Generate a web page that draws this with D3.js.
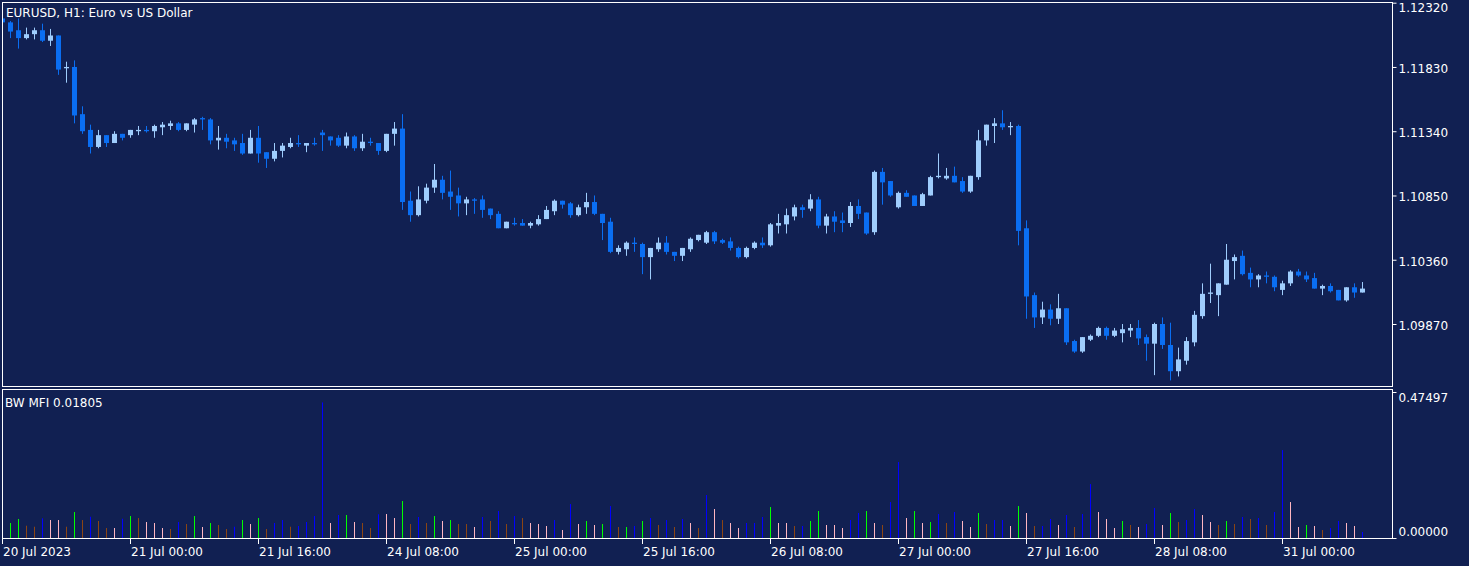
<!DOCTYPE html>
<html lang="en">
<head>
<meta charset="UTF-8">
<title>EURUSD H1</title>
<script src="https://cdn.jsdelivr.net/npm/d3@7"></script>
<style>
  body { margin: 0; background: #112052; }
  text { font-family: "DejaVu Sans", sans-serif; font-size: 12px; fill: #ffffff; }
</style>
</head>
<body>
<svg width="1469" height="566"></svg>
<script>
const opens = [
  1.1220,1.1217,1.1211,1.1205,1.1208,1.1211,1.1203,1.1207,1.1182,1.1183,
  1.1147,1.1135,1.1122,1.1131,1.1125,1.1132,1.1131,1.1134,1.1135,1.1134,
  1.1137,1.1138,1.1140,1.1135,1.1139,1.1144,1.1143,1.1127,1.1129,1.1127,
  1.1125,1.1117,1.1129,1.1118,1.1113,1.1119,1.1122,1.1125,1.1123,1.1125,
  1.1133,1.1130,1.1129,1.1123,1.1130,1.1121,1.1126,1.1125,1.1119,1.1132,
  1.1136,1.1081,1.1070,1.1081,1.1091,1.1097,1.1088,1.1085,1.1079,1.1082,
  1.1082,1.1075,1.1071,1.1060,1.1064,1.1064,1.1062,1.1063,1.1067,1.1073,
  1.1081,1.1079,1.1070,1.1076,1.1080,1.1071,1.1065,1.1042,1.1044,1.1049,
  1.1048,1.1038,1.1044,1.1049,1.1042,1.1039,1.1044,1.1051,1.1049,1.1057,
  1.1051,1.1050,1.1045,1.1038,1.1045,1.1049,1.1047,1.1062,1.1063,1.1069,
  1.1076,1.1075,1.1082,1.1062,1.1069,1.1066,1.1064,1.1077,1.1072,1.1057,
  1.1103,1.1096,1.1076,1.1087,1.1085,1.1077,1.1085,1.1099,1.1098,1.1100,
  1.1096,1.1088,1.1099,1.1127,1.1138,1.1140,1.1137,1.1138,1.1060,1.1009,
  1.0992,1.0998,1.0991,1.0999,1.0974,1.0966,1.0975,1.0978,1.0984,1.0978,
  1.0980,1.0982,1.0984,1.0977,1.0972,1.0987,1.0971,1.0951,1.0959,1.0973,
  1.0993,1.1010,1.1009,1.1017,1.1035,1.1039,1.1026,1.1021,1.1024,1.1023,
  1.1013,1.1018,1.1027,1.1024,1.1022,1.1014,1.1016,1.1013,1.1005,1.1015,1.1011
];
const highs = [
  1.1221,1.1218,1.1220,1.1213,1.1213,1.1216,1.1212,1.1207,1.1187,1.1188,
  1.1153,1.1139,1.1135,1.1131,1.1134,1.1132,1.1135,1.1138,1.1138,1.1139,
  1.1141,1.1142,1.1141,1.1140,1.1144,1.1145,1.1144,1.1138,1.1132,1.1129,
  1.1132,1.1135,1.1138,1.1118,1.1125,1.1125,1.1129,1.1131,1.1125,1.1129,
  1.1135,1.1130,1.1131,1.1133,1.1131,1.1132,1.1129,1.1125,1.1132,1.1141,
  1.1147,1.1088,1.1092,1.1094,1.1109,1.1100,1.1104,1.1091,1.1084,1.1083,
  1.1085,1.1075,1.1073,1.1065,1.1068,1.1067,1.1065,1.1070,1.1077,1.1082,
  1.1081,1.1080,1.1078,1.1087,1.1085,1.1071,1.1068,1.1047,1.1050,1.1053,
  1.1049,1.1045,1.1053,1.1054,1.1042,1.1045,1.1053,1.1055,1.1058,1.1058,
  1.1052,1.1053,1.1046,1.1046,1.1050,1.1053,1.1064,1.1071,1.1075,1.1078,
  1.1078,1.1086,1.1084,1.1071,1.1073,1.1072,1.1080,1.1082,1.1072,1.1104,
  1.1106,1.1096,1.1088,1.1089,1.1085,1.1087,1.1100,1.1117,1.1106,1.1107,
  1.1099,1.1100,1.1135,1.1139,1.1144,1.1150,1.1141,1.1139,1.1066,1.1011,
  1.1004,1.1002,1.1010,1.0999,1.0975,1.0977,1.0979,1.0985,1.0985,1.0984,
  1.0987,1.0987,1.0990,1.0979,1.0988,1.0992,1.0988,1.0969,1.0977,1.0997,
  1.1018,1.1033,1.1018,1.1048,1.1040,1.1043,1.1030,1.1025,1.1027,1.1024,
  1.1020,1.1028,1.1029,1.1027,1.1026,1.1017,1.1018,1.1013,1.1015,1.1018,1.1019
];
const lows = [
  1.1216,1.1205,1.1197,1.1204,1.1204,1.1202,1.1199,1.1177,1.1171,1.1140,
  1.1132,1.1117,1.1121,1.1122,1.1125,1.1127,1.1129,1.1131,1.1133,1.1129,
  1.1131,1.1135,1.1134,1.1134,1.1133,1.1135,1.1124,1.1120,1.1121,1.1119,
  1.1116,1.1117,1.1110,1.1106,1.1111,1.1114,1.1121,1.1122,1.1118,1.1123,
  1.1119,1.1123,1.1122,1.1121,1.1119,1.1119,1.1123,1.1116,1.1118,1.1123,
  1.1074,1.1065,1.1069,1.1079,1.1087,1.1082,1.1074,1.1069,1.1070,1.1071,
  1.1068,1.1067,1.1060,1.1060,1.1062,1.1062,1.1060,1.1062,1.1067,1.1070,
  1.1075,1.1068,1.1069,1.1071,1.1070,1.1051,1.1041,1.1040,1.1039,1.1042,
  1.1025,1.1021,1.1042,1.1040,1.1035,1.1035,1.1042,1.1050,1.1048,1.1048,
  1.1048,1.1043,1.1037,1.1037,1.1044,1.1045,1.1046,1.1056,1.1056,1.1066,
  1.1068,1.1073,1.1060,1.1056,1.1057,1.1057,1.1061,1.1067,1.1055,1.1055,
  1.1078,1.1084,1.1075,1.1084,1.1077,1.1077,1.1085,1.1098,1.1097,1.1095,
  1.1087,1.1087,1.1097,1.1123,1.1125,1.1135,1.1131,1.1047,1.0991,1.0984,
  1.0987,1.0986,1.0987,1.0971,1.0965,1.0965,1.0974,1.0977,1.0975,1.0977,
  1.0973,1.0977,1.0971,1.0959,1.0948,1.0968,1.0944,1.0947,1.0956,1.0970,
  1.0991,1.1003,1.0993,1.1017,1.1021,1.1024,1.1015,1.1015,1.1018,1.1012,
  1.1009,1.1016,1.1023,1.1019,1.1014,1.1009,1.1011,1.1005,1.1004,1.1007,1.1011
];
const closes = [
  1.1217,1.1210,1.1205,1.1208,1.1211,1.1203,1.1207,1.1181,1.1183,1.1146,
  1.1134,1.1122,1.1131,1.1125,1.1132,1.1129,1.1135,1.1135,1.1134,1.1138,
  1.1139,1.1140,1.1135,1.1140,1.1143,1.1143,1.1127,1.1129,1.1126,1.1124,
  1.1117,1.1129,1.1117,1.1113,1.1119,1.1123,1.1125,1.1124,1.1125,1.1124,
  1.1131,1.1127,1.1123,1.1130,1.1121,1.1126,1.1125,1.1119,1.1132,1.1136,
  1.1080,1.1070,1.1082,1.1091,1.1097,1.1087,1.1084,1.1079,1.1082,1.1081,
  1.1074,1.1070,1.1060,1.1065,1.1063,1.1062,1.1064,1.1067,1.1074,1.1081,
  1.1078,1.1070,1.1076,1.1080,1.1071,1.1064,1.1042,1.1045,1.1049,1.1048,
  1.1038,1.1045,1.1049,1.1042,1.1039,1.1045,1.1052,1.1055,1.1057,1.1050,
  1.1049,1.1045,1.1038,1.1045,1.1049,1.1047,1.1063,1.1064,1.1070,1.1076,
  1.1074,1.1082,1.1062,1.1069,1.1065,1.1064,1.1077,1.1071,1.1056,1.1103,
  1.1095,1.1085,1.1087,1.1084,1.1077,1.1086,1.1099,1.1100,1.1100,1.1095,
  1.1088,1.1100,1.1127,1.1139,1.1140,1.1137,1.1138,1.1058,1.1008,1.0992,
  1.0998,1.0991,1.0999,1.0973,1.0966,1.0977,1.0978,1.0984,1.0978,1.0982,
  1.0983,1.0984,1.0976,1.0972,1.0987,1.0971,1.0951,1.0960,1.0974,1.0994,
  1.1010,1.1011,1.1018,1.1036,1.1038,1.1025,1.1021,1.1024,1.1023,1.1015,
  1.1018,1.1027,1.1024,1.1021,1.1014,1.1016,1.1012,1.1005,1.1015,1.1011,1.1014
];

// BW MFI histogram values and bar type per bar
// g = green (MFI up, vol up), b = brown (down, down), u = blue "fake", p = pink "squat"
const mfiValues = [
  0.0500,0.0488,0.0618,0.0400,0.0367,0.0640,0.0585,0.0585,0.0367,0.0845,
  0.0585,0.0692,0.0553,0.0325,0.0325,0.0627,0.0715,0.0650,0.0520,0.0488,
  0.0325,0.0293,0.0520,0.0455,0.0715,0.0358,0.0488,0.0423,0.0293,0.0367,
  0.0585,0.0455,0.0650,0.0293,0.0488,0.0585,0.0367,0.0390,0.0520,0.0715,
  0.4410,0.0488,0.0748,0.0748,0.0520,0.0488,0.0325,0.0770,0.0780,0.0650,
  0.1203,0.0455,0.0683,0.0488,0.0715,0.0553,0.0585,0.0455,0.0455,0.0358,
  0.0683,0.0553,0.0878,0.0455,0.0715,0.0650,0.0488,0.0455,0.0390,0.0585,
  0.0260,0.1105,0.0455,0.0553,0.0423,0.0455,0.1040,0.0358,0.0358,0.0390,
  0.0553,0.0650,0.0423,0.0585,0.0358,0.0618,0.0488,0.0325,0.1398,0.0943,
  0.0585,0.0488,0.0325,0.0488,0.0488,0.0683,0.1008,0.0488,0.0488,0.0390,
  0.0390,0.0553,0.0878,0.0423,0.0423,0.0325,0.0585,0.0813,0.0878,0.0488,
  0.0423,0.1170,0.2470,0.0650,0.0878,0.0488,0.0520,0.0780,0.0488,0.0845,
  0.0553,0.0358,0.0813,0.0455,0.0585,0.0585,0.0390,0.1040,0.0813,0.0390,
  0.0390,0.0618,0.0423,0.0748,0.0358,0.0780,0.1755,0.0845,0.0618,0.0325,
  0.0553,0.0423,0.0358,0.0455,0.0975,0.0423,0.0813,0.0520,0.0585,0.0943,
  0.0748,0.0520,0.0423,0.0553,0.0455,0.0683,0.0618,0.0650,0.0423,0.0845,
  0.2860,0.1170,0.0358,0.0423,0.0390,0.0260,0.0325,0.0553,0.0488,0.0390,0.0195
];
const mfiTypes = (
  "pggbbuppbg" + "bubbpugbpp" + "pbubgpgbbu" + "gpgbuubuuu" +
  "upugpbbupp" + "gbubgpgbbp" + "ubububpppu" + "pupgpgubgu" +
  "gububupbup" + "bppuuugppb" + "uggpppuugp" + "buupgpgubu" +
  "ppgbuupgpb" + "uupubuuppp" + "gbpuupgbuu" + "ppbgbububu" + "uppgpbuuppu"
).split("");

const timeLabels = ["20 Jul 2023","21 Jul 00:00","21 Jul 16:00","24 Jul 08:00","25 Jul 00:00",
  "25 Jul 16:00","26 Jul 08:00","27 Jul 00:00","27 Jul 16:00","28 Jul 08:00","31 Jul 00:00"];
const timeLabelIdx = [0,16,32,48,64,80,96,112,128,144,160];
const priceTicks = [1.12320,1.11830,1.11340,1.10850,1.10360,1.09870];
const mfiTicks = [0.47497, 0.00000];

const typeColor = {g: "#00ff00", b: "#8b4513", u: "#0000ff", p: "#ffb6c1"};
const bullColor = "#9fcdfd", bearColor = "#0a6ef2";

const svg = d3.select("svg");
const n = opens.length;

const paneL = 2.5, paneR = 1392.5;
const x = d3.scaleLinear().domain([0, n - 1]).range([2.5, 2.5 + 8 * (n - 1)]);
const y = d3.scaleLinear().domain([1.09870, 1.12320]).range([324, 2.7]);
const ym = d3.scaleLinear().domain([0, 0.47497]).range([538, 392]);

svg.append("clipPath").attr("id", "mainClip").append("rect")
  .attr("x", 3).attr("y", 3).attr("width", paneR - 3).attr("height", 383);
svg.append("clipPath").attr("id", "mfiClip").append("rect")
  .attr("x", 3).attr("y", 390).attr("width", paneR - 3).attr("height", 148);

// candles
const candles = svg.append("g").attr("clip-path", "url(#mainClip)")
  .selectAll("g").data(d3.range(n)).enter().append("g")
  .attr("fill", i => closes[i] >= opens[i] ? bullColor : bearColor)
  .attr("stroke", i => closes[i] >= opens[i] ? bullColor : bearColor);

candles.append("line")
  .attr("x1", i => x(i)).attr("x2", i => x(i))
  .attr("y1", i => y(highs[i])).attr("y2", i => y(lows[i]))
  .attr("stroke-width", 1);

candles.append("rect")
  .attr("x", i => x(i) - 2.5).attr("width", 5)
  .attr("y", i => y(Math.max(opens[i], closes[i])))
  .attr("height", i => Math.max(1, y(Math.min(opens[i], closes[i])) - y(Math.max(opens[i], closes[i]))))
  .attr("stroke", "none");

// MFI bars
svg.append("g").attr("clip-path", "url(#mfiClip)")
  .selectAll("rect").data(d3.range(n)).enter().append("rect")
  .attr("x", i => x(i) - 0.5).attr("width", 1)
  .attr("y", i => ym(mfiValues[i]))
  .attr("height", i => ym(0) - ym(mfiValues[i]))
  .attr("fill", i => typeColor[mfiTypes[i]]);

// frames
svg.append("rect").attr("x", paneL).attr("y", 2.5).attr("width", paneR - paneL).attr("height", 384)
  .attr("fill", "none").attr("stroke", "#ffffff");
svg.append("rect").attr("x", paneL).attr("y", 389.5).attr("width", paneR - paneL).attr("height", 149)
  .attr("fill", "none").attr("stroke", "#ffffff");

// price axis
const pAxis = svg.append("g").attr("transform", `translate(${paneR},0)`)
  .call(d3.axisRight(y).tickValues(priceTicks).tickSize(4).tickFormat(d3.format(".5f")));
pAxis.select(".domain").remove();
pAxis.selectAll("line").attr("stroke", "#ffffff");
pAxis.selectAll("text").attr("x", 6).attr("dy", d => d > 1.12 ? "0.75em" : "0.45em")
  .style("font-family", "DejaVu Sans").style("font-size", "12px").attr("fill", "#ffffff");

// MFI axis
svg.append("g").selectAll("line").data(mfiTicks).enter().append("line")
  .attr("x1", paneR).attr("x2", paneR + 4)
  .attr("y1", d => Math.round(ym(d)) + 0.5).attr("y2", d => Math.round(ym(d)) + 0.5)
  .attr("stroke", "#ffffff");
svg.append("g").selectAll("text").data(mfiTicks).enter().append("text")
  .attr("x", paneR + 6).attr("y", d => d > 0 ? ym(d) + 10 : ym(d) - 2)
  .text(d => d3.format(".5f")(d));

// time axis
svg.append("g").selectAll("line").data(timeLabelIdx).enter().append("line")
  .attr("x1", i => x(i)).attr("x2", i => x(i))
  .attr("y1", 539).attr("y2", 544).attr("stroke", "#ffffff");
svg.append("g").selectAll("text").data(timeLabelIdx).enter().append("text")
  .attr("x", i => x(i) + 0.5).attr("y", 556)
  .text((i, k) => timeLabels[k]);

// titles
svg.append("text").attr("x", 6).attr("y", 17).text("EURUSD, H1:  Euro vs US Dollar");
svg.append("text").attr("x", 5).attr("y", 407).text("BW MFI 0.01805");
</script>
</body>
</html>
